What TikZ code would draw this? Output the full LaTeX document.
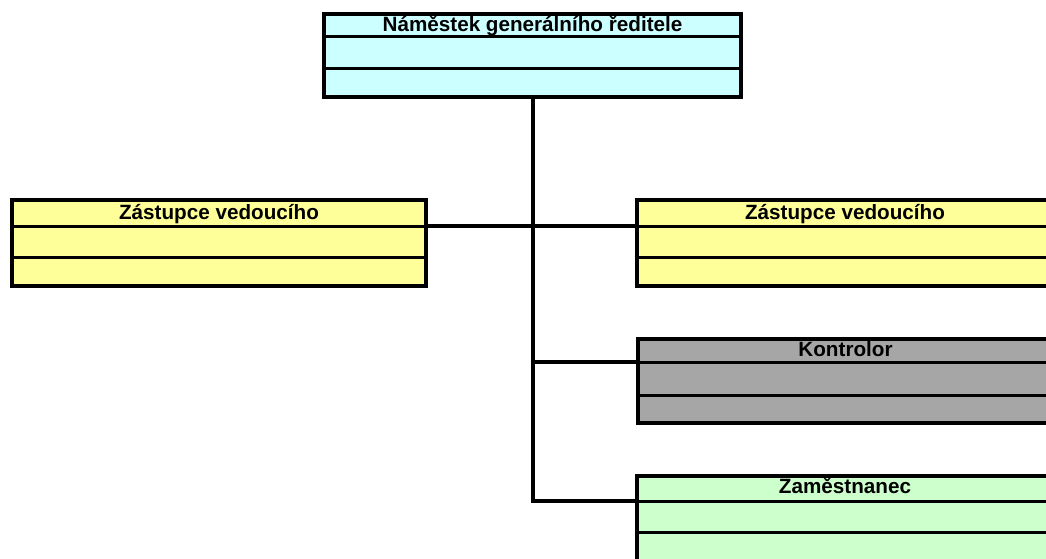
\documentclass[tikz,border=0pt]{standalone}
\usepackage{fontspec}
\setmainfont{Liberation Sans}
\usetikzlibrary{calc,fit}

\definecolor{headcyan}{HTML}{CCFFFF}
\definecolor{deputyyellow}{HTML}{FFFF99}
\definecolor{auditgrey}{HTML}{A6A6A6}
\definecolor{staffgreen}{HTML}{CCFFCC}

\tikzset{
  box/.style={draw=black, line width=2.8pt, inner sep=0pt},
  rule/.style={draw=black, line width=2.1pt},
  title/.style={font=\bfseries\fontsize{15.5}{15.5}\selectfont, inner sep=0pt, anchor=base},
  link/.style={draw=black, line width=3pt},
}

\begin{document}
\begin{tikzpicture}[x=0.75pt, y=-0.75pt]
  % page frame (units are pixels, y grows downward)
  \clip (0,0) rectangle (1046,558);
  \fill[white] (0,0) rectangle (1046,558);

  % head of department
  \node[box, fill=headcyan, fit={(324,14) (741,97)}] (top) {};
  \draw[rule] ($(top.north west)+(0,24)$) coordinate (top-d1w) -- ($(top.north east)+(0,24)$) coordinate (top-d1e);
  \draw[rule] ($(top.north west)+(0,56)$) -- ($(top.north east)+(0,56)$);
  \node[title] (top-t) at ($(top.north)+(0,19)$) {Náměstek generálního ředitele};

  % deputy, left
  \node[box, fill=deputyyellow, fit={(12,200) (426,286)}] (left) {};
  \draw[rule] ($(left.north west)+(0,28)$) coordinate (left-d1w) -- ($(left.north east)+(0,28)$) coordinate (left-d1e);
  \draw[rule] ($(left.north west)+(0,59)$) -- ($(left.north east)+(0,59)$);
  \node[title] (left-t) at ($(left.north)+(0,21)$) {Zástupce vedoucího};

  % deputy, right
  \node[box, fill=deputyyellow, fit={(637,200) (1053,286)}] (right) {};
  \draw[rule] ($(right.north west)+(0,28)$) coordinate (right-d1w) -- ($(right.north east)+(0,28)$) coordinate (right-d1e);
  \draw[rule] ($(right.north west)+(0,59)$) -- ($(right.north east)+(0,59)$);
  \node[title] (right-t) at ($(right.north)+(0,21)$) {Zástupce vedoucího};

  % controller
  \node[box, fill=auditgrey, fit={(638,339) (1053,423)}] (kon) {};
  \draw[rule] ($(kon.north west)+(0,25)$) coordinate (kon-d1w) -- ($(kon.north east)+(0,25)$) coordinate (kon-d1e);
  \draw[rule] ($(kon.north west)+(0,58)$) -- ($(kon.north east)+(0,58)$);
  \node[title] (kon-t) at ($(kon.north)+(0,19)$) {Kontrolor};

  % employee
  \node[box, fill=staffgreen, fit={(637,476) (1053,562)}] (zam) {};
  \draw[rule] ($(zam.north west)+(0,27)$) coordinate (zam-d1w) -- ($(zam.north east)+(0,27)$) coordinate (zam-d1e);
  \draw[rule] ($(zam.north west)+(0,58)$) -- ($(zam.north east)+(0,58)$);
  \node[title] (zam-t) at ($(zam.north)+(0,19)$) {Zaměstnanec};

  % connectors
  \draw[link] (left-d1e) -- (right-d1w);
  \draw[link] (top.south) -- (top.south |- zam-d1w) -- (zam-d1w);
  \draw[link] (top.south |- kon-d1w) -- (kon-d1w);
\end{tikzpicture}
\end{document}
